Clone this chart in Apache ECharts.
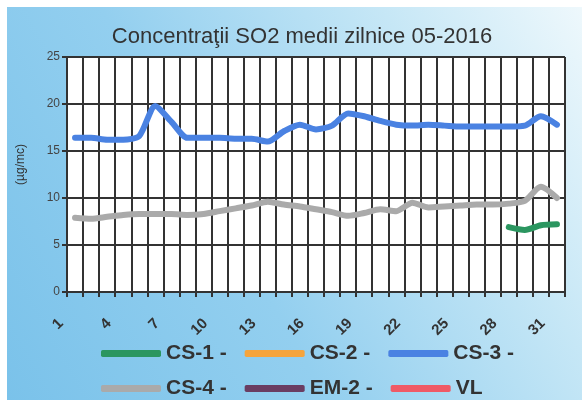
<!DOCTYPE html>
<html>
<head>
<meta charset="utf-8">
<script src="https://cdn.jsdelivr.net/npm/echarts@6/dist/echarts.min.js"></script>
<style>
  html, body { margin: 0; padding: 0; background: #ffffff; }
  #wrap { position: relative; width: 582px; height: 400px; background: #ffffff; overflow: hidden; }
  #bg { position: absolute; left: 7px; top: 7px; right: 0; bottom: 0;
        background: linear-gradient(60deg, #7ac2ea 0%, #93cfef 40%, #c6e7f6 75%, #eef8fc 100%); }
  #chart { position: absolute; left: 0; top: 0; width: 582px; height: 400px; }
</style>
</head>
<body>
<div id="wrap"><div id="bg"></div><div id="chart"></div></div>
<script>
// Days of month 05-2016
const days = ['1','2','3','4','5','6','7','8','9','10','11','12','13','14','15','16','17','18','19','20','21','22','23','24','25','26','27','28','29','30','31'];

// Daily mean SO2 concentrations (µg/mc)
const cs1 = [null,null,null,null,null,null,null,null,null,null,null,null,null,null,null,null,null,null,null,null,null,null,null,null,null,null,null,6.9,6.6,7.1,7.2];
const cs2 = [];
const cs3 = [16.4,16.4,16.2,16.2,16.6,19.8,18.1,16.4,16.4,16.4,16.3,16.3,16.0,17.1,17.8,17.3,17.7,19.0,18.7,18.2,17.8,17.7,17.8,17.7,17.6,17.6,17.6,17.6,17.7,18.7,17.8];
const cs4 = [7.9,7.8,8.0,8.2,8.3,8.3,8.3,8.2,8.3,8.6,8.9,9.2,9.6,9.3,9.1,8.8,8.5,8.1,8.4,8.8,8.6,9.5,9.0,9.1,9.2,9.3,9.3,9.4,9.7,11.2,10.0];
const em2 = [];
const vl = [];

const seriesNames = ['CS-1 -','CS-2 -','CS-3 -','CS-4 -','EM-2 -','VL'];
const seriesColors = ['#2b9660','#f5a43c','#4a82e2','#aaaaaa','#6a3d62','#ef5a66'];
const seriesData = [cs1, cs2, cs3, cs4, em2, vl];

const yTicks = { min: 0, max: 25, interval: 5 };

const chart = echarts.init(document.getElementById('chart'), null, { renderer: 'canvas' });

const series = seriesNames.map((n, i) => ({
  name: n,
  type: 'line',
  data: seriesData[i],
  color: seriesColors[i],
  symbol: 'none',
  smooth: 0.25,
  connectNulls: false,
  lineStyle: { width: 6, color: seriesColors[i], cap: 'round', join: 'round' }
}));

const legendCommon = {
  left: 96,
  itemWidth: 60,
  itemHeight: 7,
  itemGap: 18,
  icon: 'roundRect',
  selectedMode: false,
  textStyle: { fontFamily: 'Liberation Sans, Arial, sans-serif', fontSize: 21, fontWeight: 'bold', color: '#333333' }
};

chart.setOption({
  backgroundColor: 'transparent',
  animation: false,
  title: {
    text: 'Concentraţii SO2 medii zilnice 05-2016',
    left: 297,
    top: 21,
    textAlign: 'center',
    textStyle: { fontFamily: 'Liberation Sans, Arial, sans-serif', fontSize: 22, fontWeight: 'normal', color: '#333333' }
  },
  legend: [
    Object.assign({}, legendCommon, { top: 338, data: seriesNames.slice(0, 3) }),
    Object.assign({}, legendCommon, { top: 373, data: seriesNames.slice(3) })
  ],
  grid: { left: 67, right: 17, top: 57, bottom: 108, show: true, backgroundColor: '#ffffff', borderWidth: 0 },
  xAxis: {
    type: 'category',
    data: days,
    boundaryGap: true,
    axisLine: { show: true, lineStyle: { color: '#333333', width: 2 } },
    axisTick: { show: true, interval: 0, length: 5, lineStyle: { color: '#333333', width: 2 } },
    splitLine: { show: true, interval: 0, lineStyle: { color: '#333333', width: 2 } },
    axisLabel: {
      interval: 2,
      rotate: 45,
      margin: 15,
      padding: [0, 20, 0, 0],
      fontFamily: 'Liberation Sans, Arial, sans-serif',
      fontSize: 15,
      fontWeight: 'bold',
      color: '#333333'
    }
  },
  yAxis: {
    type: 'value',
    min: yTicks.min,
    max: yTicks.max,
    interval: yTicks.interval,
    name: '(µg/mc)',
    nameLocation: 'middle',
    nameGap: 40,
    nameTextStyle: { fontFamily: 'Liberation Sans, Arial, sans-serif', fontSize: 12, color: '#333333', padding: [0, 0, 0, 20] },
    axisLine: { show: true, lineStyle: { color: '#333333', width: 2 } },
    axisTick: { show: true, length: 5, lineStyle: { color: '#333333', width: 2 } },
    splitLine: { show: true, lineStyle: { color: '#333333', width: 2 } },
    axisLabel: { margin: 7, fontFamily: 'Liberation Sans, Arial, sans-serif', fontSize: 12, color: '#444444' }
  },
  series: series
});
</script>
</body>
</html>
